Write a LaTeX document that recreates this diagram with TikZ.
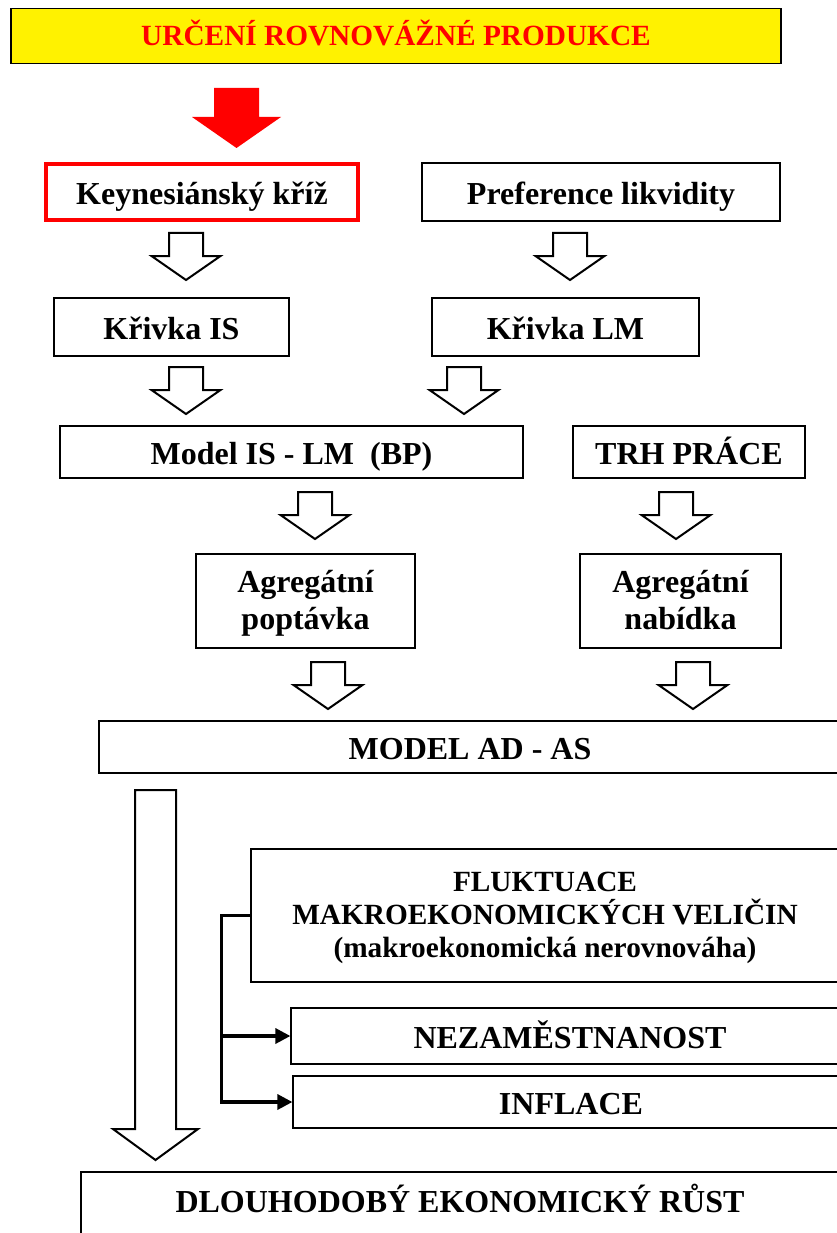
\documentclass[tikz,border=0pt]{standalone}
\usepackage{fontspec}
\setmainfont{Liberation Serif}
\usetikzlibrary{positioning, arrows.meta, calc}

\newcommand\linestrut{\rule[-0.22em]{0pt}{1.07em}}

\begin{document}
\begin{tikzpicture}[
    x=1pt, y=-1pt,
    font=\bfseries\fontsize{32}{37}\selectfont,
    >={Triangle[length=15pt, width=15pt]},
    box/.style={draw, line width=1.2pt, align=center, inner sep=0pt},
    onebox/.style={box, text height=25pt, text depth=0pt},
    headbox/.style={onebox, fill=yellow, text=red, text height=19pt,
                    font=\bfseries\fontsize{29.3}{33}\selectfont},
    redbox/.style={draw=red, line width=4pt},
    smallfont/.style={font=\bfseries\fontsize{29.3}{33}\selectfont},
    hollow/.style={draw, fill=white, line width=2pt},
    bar/.style={line width=3.3pt},
    pics/blockdown/.style n args={4}{code={
        \path[pic actions] (-#1,-#3-#4) -- (-#1,-#4) -- (-#2,-#4) -- (0,0)
            -- (#2,-#4) -- (#1,-#4) -- (#1,-#3-#4) -- cycle;}},
]
\useasboundingbox (0,0) rectangle (836,1233);

% ── title and pointer ────────────────────────────────────────────────────────
\node[headbox, minimum width=770, minimum height=55] (head) at (396,35.8)
    {URČENÍ ROVNOVÁŽNÉ PRODUKCE};
\pic[fill=red] (pointer) at (236.5,148) {blockdown={22.5}{44.5}{29}{31}};

% ── goods market / money market ──────────────────────────────────────────────
\node[onebox, redbox, minimum width=312, minimum height=56] (kk) at (202,192)
    {Keynesiánský kříž};
\node[onebox, minimum width=358, minimum height=58] (pl) at (601,192)
    {Preference likvidity};
\pic[hollow] (kk-is) at (186,280) {blockdown={17}{34.5}{23}{24}};
\pic[hollow] (pl-lm) at (570,280) {blockdown={17}{34.5}{23}{24}};

\node[onebox, minimum width=235, minimum height=58] (kis) at (171.5,327) {Křivka IS};
\node[onebox, minimum width=267, minimum height=58] (klm) at (565.5,327) {Křivka LM};
\pic[hollow] (is-model) at (186,414) {blockdown={17}{34.5}{23}{24}};
\pic[hollow] (lm-model) at (464,414) {blockdown={17}{34.5}{23}{24}};

% ── IS-LM model and labour market ────────────────────────────────────────────
\node[onebox, minimum width=463, minimum height=52] (model) at (291.5,452)
    {Model IS - LM\ \ (BP)};
\node[onebox, minimum width=232, minimum height=52] (trh) at (689,452) {TRH PRÁCE};
\pic[hollow] (model-ad) at (315,539) {blockdown={17}{34.5}{23}{24}};
\pic[hollow] (trh-as) at (676,539) {blockdown={17}{34.5}{23}{24}};

\node[box, minimum width=219, minimum height=94] (agd) at (305.5,601)
    {\linestrut Agregátní\\poptávka\linestrut};
\node[box, minimum width=201, minimum height=94] (ags) at (680.5,601)
    {\linestrut Agregátní\\nabídka\linestrut};
\pic[hollow] (agd-adas) at (328,709) {blockdown={17}{34.5}{23}{24}};
\pic[hollow] (ags-adas) at (693,709) {blockdown={17}{34.5}{23}{24}};

% ── AD-AS model and its outcomes ─────────────────────────────────────────────
\node[onebox, minimum width=742, minimum height=52] (adas) at (470,747) {MODEL AD - AS};

\node[box, smallfont, minimum width=588, minimum height=133] (fluct) at (545,915.5)
    {\linestrut FLUKTUACE\\MAKROEKONOMICKÝCH VELIČIN\\(makroekonomická nerovnováha)\linestrut};
\node[onebox, minimum width=558, minimum height=56] (unemp) at (570,1036) {NEZAMĚSTNANOST};
\node[onebox, minimum width=556, minimum height=52] (infl) at (571,1102) {INFLACE};

\pic[hollow] (adas-growth) at (155.5,1160) {blockdown={20.5}{42.5}{339}{31}};
\node[onebox, text depth=13pt, minimum width=758, minimum height=68] (growth) at (460,1206)
    {DLOUHODOBÝ EKONOMICKÝ RŮST};

% ── bracket ──────────────────────────────────────────────────────────────────
\coordinate (spine) at ([xshift=-29]fluct.west);
\draw[bar, ->] (fluct.west) -- (spine) |- (infl.west);
\draw[bar, ->] (spine |- unemp.west) -- (unemp.west);

\end{tikzpicture}
\end{document}
